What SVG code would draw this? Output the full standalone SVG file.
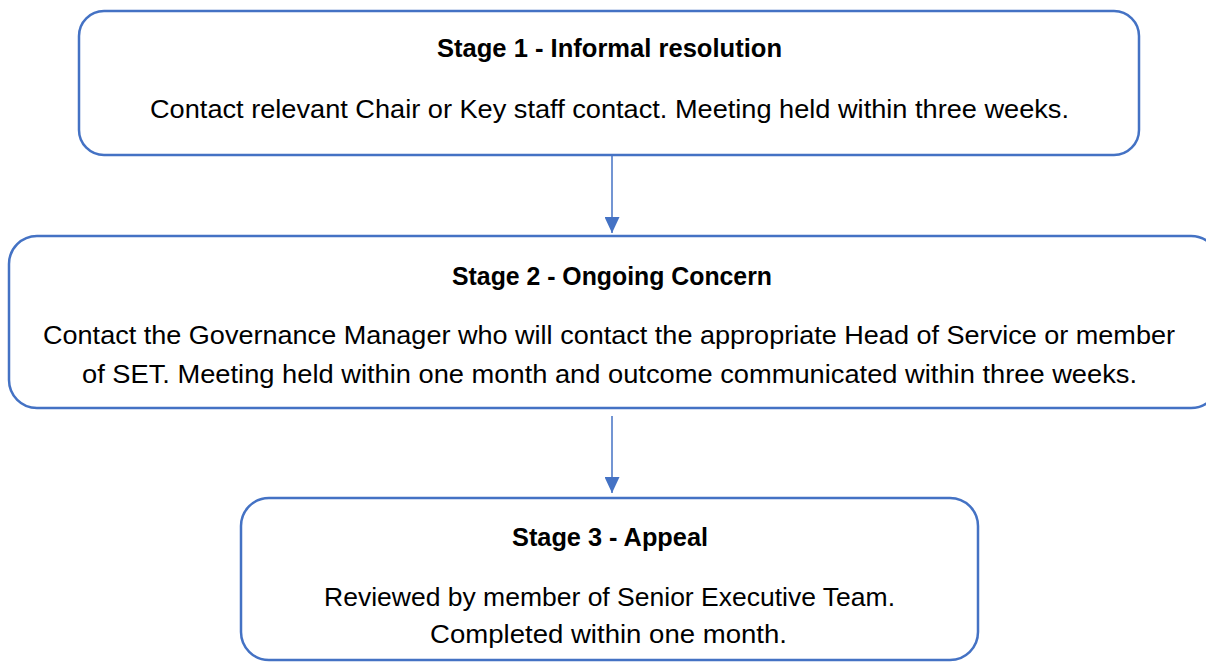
<svg xmlns="http://www.w3.org/2000/svg" width="1206" height="662" viewBox="0 0 1206 662">
<style>
.box{fill:#ffffff;stroke:#4472C4;stroke-width:2.5}
.t{font-family:"Liberation Sans",Arial,sans-serif;font-size:26.5px;fill:#000000;text-anchor:middle}
.b{font-weight:bold}
.conn{stroke:#4472C4;stroke-width:1.5;fill:none}
</style>
<defs>
<marker id="arr" markerUnits="userSpaceOnUse" markerWidth="16" markerHeight="15" refX="16" refY="7.5" orient="auto">
<path d="M0,0 L16,7.5 L0,15 Z" fill="#4472C4"/>
</marker>
</defs>
<rect width="1206" height="662" fill="#ffffff"/>
<g id="connectors">
<line class="conn" x1="612" y1="156" x2="612" y2="233" marker-end="url(#arr)"/>
<line class="conn" x1="612" y1="416" x2="612" y2="493" marker-end="url(#arr)"/>
</g>
<g id="stage1">
<rect class="box" x="79" y="11" width="1060" height="144" rx="25" ry="25"/>
<text class="t b" x="609.5" y="57" textLength="345" lengthAdjust="spacingAndGlyphs">Stage 1 - Informal resolution</text>
<text class="t" x="609.5" y="118" textLength="919" lengthAdjust="spacingAndGlyphs">Contact relevant Chair or Key staff contact. Meeting held within three weeks.</text>
</g>
<g id="stage2">
<rect class="box" x="9" y="236" width="1210" height="172" rx="28" ry="28"/>
<text class="t b" x="612" y="285" textLength="320" lengthAdjust="spacingAndGlyphs">Stage 2 - Ongoing Concern</text>
<text class="t" x="609" y="344" textLength="1132" lengthAdjust="spacingAndGlyphs">Contact the Governance Manager who will contact the appropriate Head of Service or member</text>
<text class="t" x="609.5" y="383" textLength="1055" lengthAdjust="spacingAndGlyphs">of SET. Meeting held within one month and outcome communicated within three weeks.</text>
</g>
<g id="stage3">
<rect class="box" x="241" y="498" width="737" height="162" rx="28" ry="28"/>
<text class="t b" x="610" y="546" textLength="196" lengthAdjust="spacingAndGlyphs">Stage 3 - Appeal</text>
<text class="t" x="609.5" y="606" textLength="571" lengthAdjust="spacingAndGlyphs">Reviewed by member of Senior Executive Team.</text>
<text class="t" x="608.5" y="643" textLength="357" lengthAdjust="spacingAndGlyphs">Completed within one month.</text>
</g>
</svg>
